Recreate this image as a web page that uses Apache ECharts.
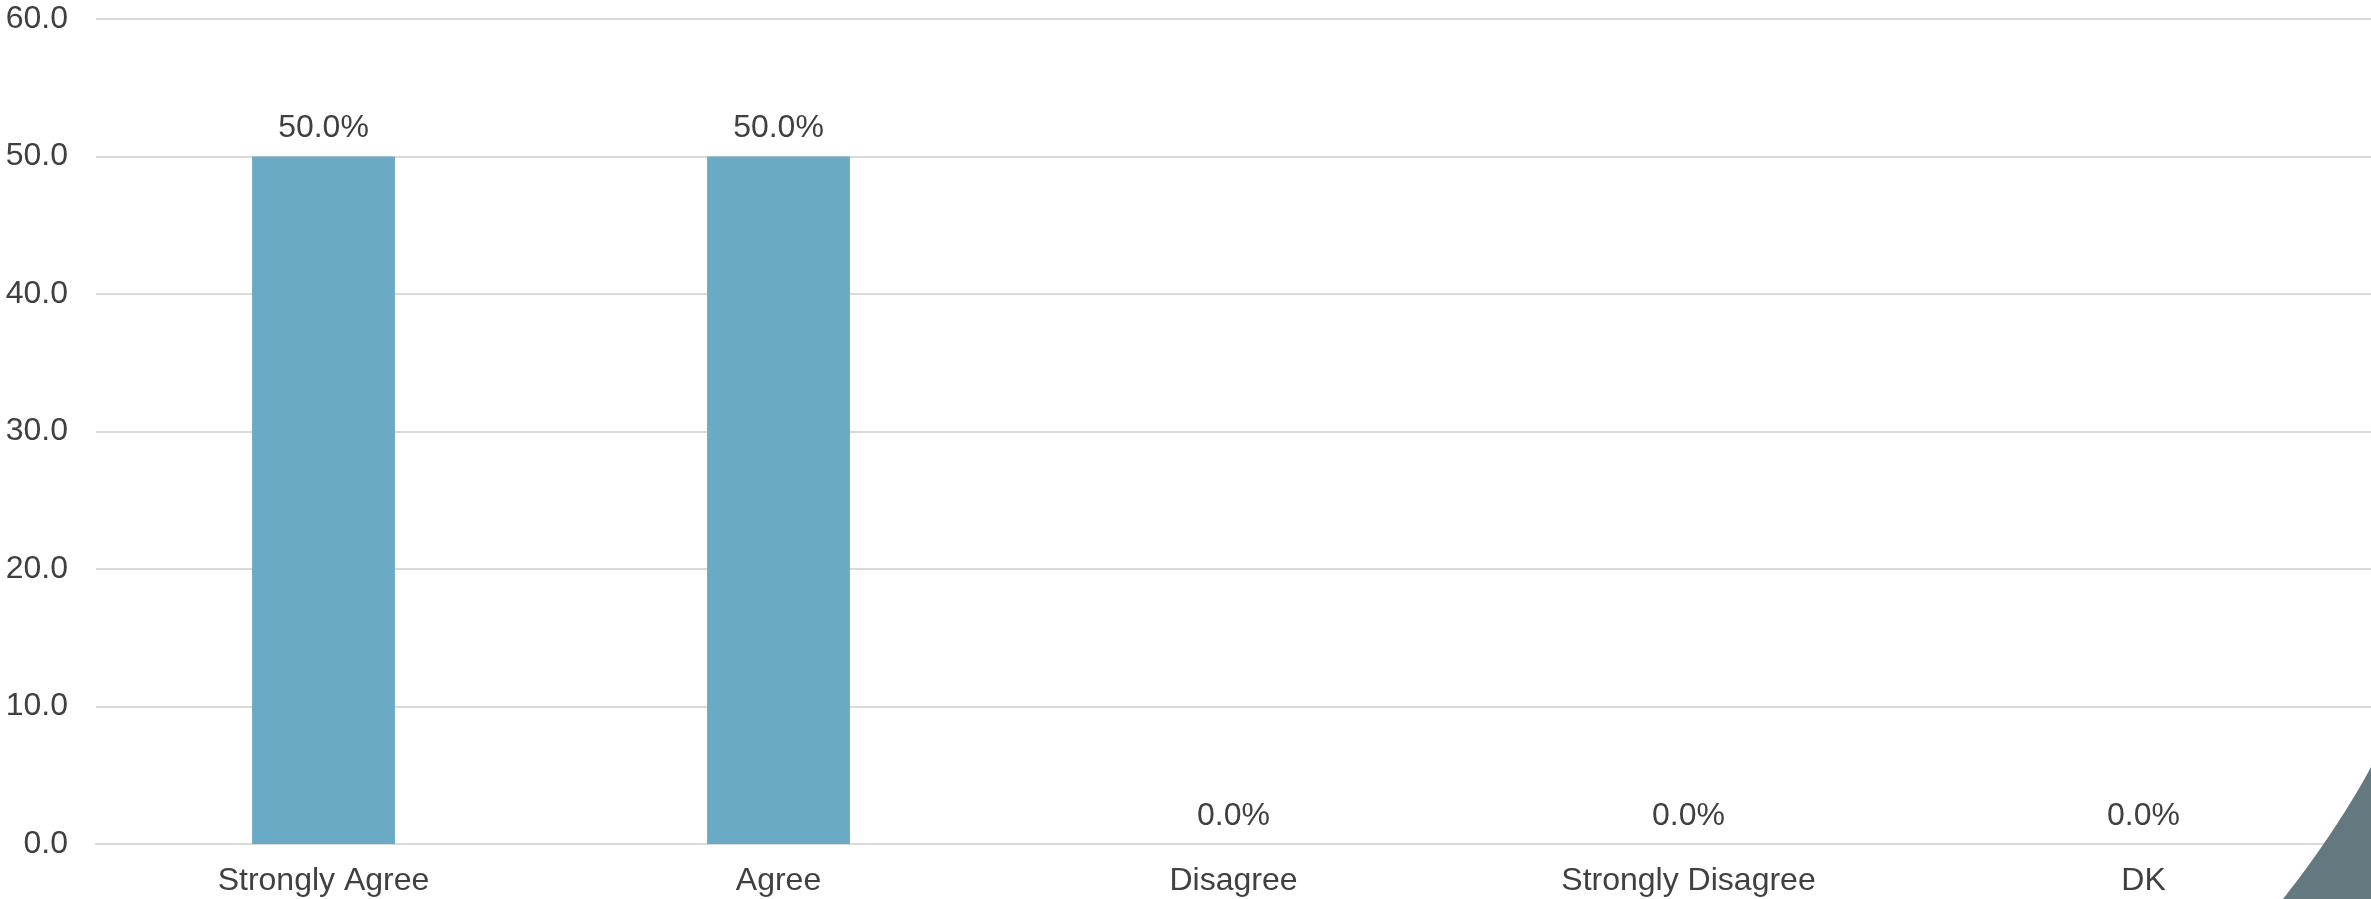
<!DOCTYPE html>
<html><head><meta charset="utf-8">
<script src="https://cdn.jsdelivr.net/npm/echarts@6/dist/echarts.min.js"></script>
<style>html,body{margin:0;padding:0;background:#fff}#c{width:2371px;height:899px}</style>
</head><body><div id="c"></div>
<script>
var categories = ["Strongly Agree", "Agree", "Disagree", "Strongly Disagree", "DK"];
var values = [50.0, 50.0, 0.0, 0.0, 0.0];
var yTicks = [0, 10, 20, 30, 40, 50, 60];

// decorative corner shape (quadratic curve approximated by polygon)
var cornerPts = [];
(function () {
  var p0 = [2371, 767], c = [2337, 830], p2 = [2283, 899];
  for (var i = 0; i <= 30; i++) {
    var t = i / 30, u = 1 - t;
    cornerPts.push([u*u*p0[0] + 2*u*t*c[0] + t*t*p2[0], u*u*p0[1] + 2*u*t*c[1] + t*t*p2[1]]);
  }
  cornerPts.push([2371, 899]);
})();

var chart = echarts.init(document.getElementById('c'), null, {renderer: 'canvas'});
var font = 'Liberation Sans, Arial, sans-serif';
chart.setOption({
  animation: false,
  backgroundColor: '#ffffff',
  grid: {left: 96, right: 0, top: 19, bottom: 55, containLabel: false},
  xAxis: {
    type: 'category', data: categories,
    axisLine: {show: true, lineStyle: {color: '#d9d9d9', width: 2}},
    axisTick: {show: false},
    axisLabel: {color: '#404040', fontSize: 32, fontFamily: font, margin: 21, interval: 0}
  },
  yAxis: {
    type: 'value', min: yTicks[0], max: yTicks[yTicks.length - 1], interval: 10,
    axisLine: {show: false}, axisTick: {show: false},
    splitLine: {lineStyle: {color: '#d9d9d9', width: 2}},
    axisLabel: {color: '#404040', fontSize: 32, fontFamily: font, margin: 28,
      formatter: function (v) { return v.toFixed(1); }}
  },
  series: [{
    type: 'bar', data: values, barWidth: '31.4%',
    itemStyle: {color: '#6aaac4'},
    label: {show: true, position: 'top', distance: 12, color: '#404040', fontSize: 32, fontFamily: font,
      formatter: function (p) { return p.value.toFixed(1) + '%'; }}
  }],
  graphic: [{
    type: 'polygon', z: 100,
    shape: {points: cornerPts},
    style: {fill: '#647880'}
  }]
});
</script></body></html>
